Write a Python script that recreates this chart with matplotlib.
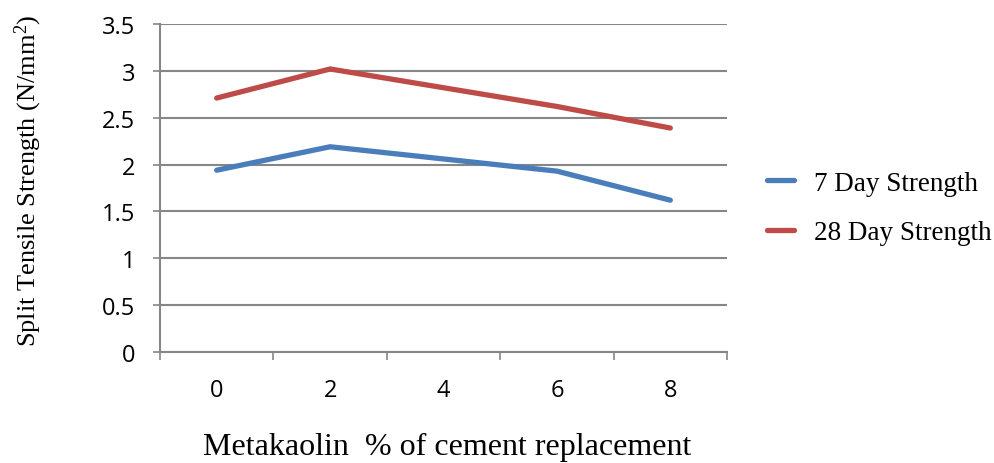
import matplotlib
matplotlib.use('Agg')
import matplotlib.pyplot as plt
import numpy as np

plt.rcParams['font.family'] = 'Open Sans'
plt.rcParams['font.size'] = 17
plt.rcParams['mathtext.fontset'] = 'custom'
plt.rcParams['mathtext.rm'] = 'Liberation Serif'
plt.rcParams['mathtext.default'] = 'rm'

categories = ['0', '2', '4', '6', '8']
day7 = [1.94, 2.19, 2.06, 1.93, 1.62]
day28 = [2.71, 3.02, 2.82, 2.62, 2.39]
yticks = [0, 0.5, 1, 1.5, 2, 2.5, 3, 3.5]

grey = '#868686'
blue = '#4A7EBB'
red = '#BE4B48'

fig = plt.figure(figsize=(9.95, 4.64), dpi=100)
ax = fig.add_axes([160/995, 1-353/464, 567/995, 328/464])

x = np.arange(len(categories))
ax.plot(x, day7, color=blue, linewidth=3.8, solid_capstyle='round', label='7 Day Strength')
ax.plot(x, day28, color=red, linewidth=3.8, solid_capstyle='round', label='28 Day Strength')

ax.set_xlim(-0.5, len(categories) - 0.5)
ax.set_ylim(0, 3.5)

# gridlines
ax.set_yticks(yticks)
ax.set_yticklabels(['%g' % v for v in yticks])
ax.yaxis.grid(True, color=grey, linewidth=1.5)
ax.set_axisbelow(True)

ax.set_xticks(x)
ax.set_xticklabels(categories)
ax.set_xticks(np.arange(-0.5, len(categories)), minor=True)

for s in ['top', 'right']:
    ax.spines[s].set_visible(False)
for s in ['left', 'bottom']:
    ax.spines[s].set_color(grey)
    ax.spines[s].set_linewidth(1.5)

ax.tick_params(axis='y', which='major', length=5, width=1.2, color=grey, pad=13, labelsize=17)
ax.tick_params(axis='x', which='major', length=0, pad=19, labelsize=17)
ax.tick_params(axis='x', which='minor', length=6, width=1.2, color=grey, direction='out')

fig.text(447/995, 1-447/464, 'Metakaolin  % of cement replacement',
         family='Liberation Serif', fontsize=23, ha='center', va='center')
fig.text(28/995, 1-181/464, 'Split Tensile Strength (N/mm$^{2}$)',
         family='Liberation Serif', fontsize=19, rotation=90, ha='center', va='center')

leg = ax.legend(loc='center left', bbox_to_anchor=(767/995, 1-209/464),
                bbox_transform=fig.transFigure, frameon=False, borderpad=0,
                borderaxespad=0, handlelength=1.0, handletextpad=0.75,
                labelspacing=0.9, prop={'family': 'Liberation Serif', 'size': 19.5})

fig.savefig('out.png', dpi=100)
